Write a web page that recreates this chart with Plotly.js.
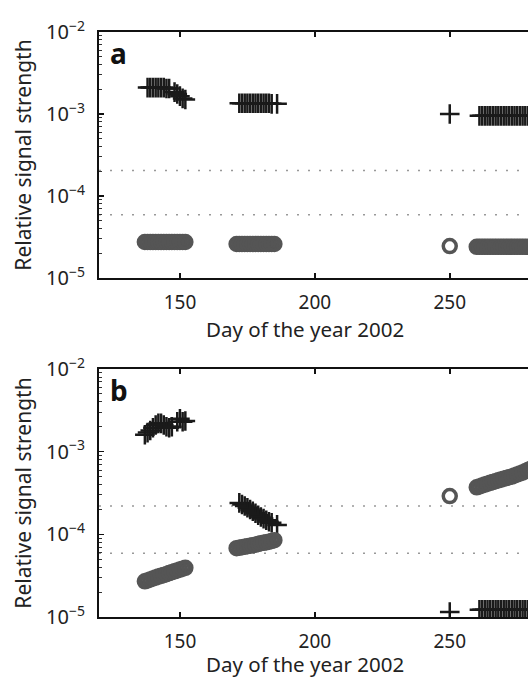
<!DOCTYPE html>
<html>
<head>
<meta charset="utf-8">
<script src="https://cdn.plot.ly/plotly-3.0.1.min.js"></script>
<style>html,body{margin:0;padding:0;background:#fff;overflow:hidden}#chart{width:528px;height:680px}</style>
</head>
<body>
<div id="chart"></div>
<script>
// ---------- Panel a ----------
const aCrossDays = [138,139,140,141,142,143,144,145,146,148,149,150,151,152,
                    172,173,174,175,176,177,178,179,180,181,182,183,184,186,
                    250,
                    261,262,263,264,265,266,267,268,269,270,271,272,273,274,275,276,277,278,279,280];
const aCrossVals = [2.1e-3,2.1e-3,2.1e-3,2.1e-3,2.1e-3,2.1e-3,2.1e-3,2.05e-3,2.05e-3,1.85e-3,1.75e-3,1.65e-3,1.55e-3,1.5e-3,
                    1.35e-3,1.35e-3,1.35e-3,1.35e-3,1.35e-3,1.35e-3,1.35e-3,1.35e-3,1.35e-3,1.35e-3,1.35e-3,1.35e-3,1.33e-3,1.33e-3,
                    1.0e-3,
                    9.5e-4,9.5e-4,9.5e-4,9.5e-4,9.5e-4,9.5e-4,9.5e-4,9.5e-4,9.5e-4,9.5e-4,9.5e-4,9.5e-4,9.5e-4,9.5e-4,9.5e-4,9.5e-4,9.5e-4,9.5e-4,9.5e-4,9.5e-4];
const aCircleDays = [137,138,139,140,141,142,143,144,145,146,147,148,149,150,151,152,
                     171,172,173,174,175,176,177,178,179,180,181,182,183,184,185,
                     250,
                     260,261,262,263,264,265,266,267,268,269,270,271,272,273,274,275,276,277,278,279,280];
const aCircleVals = [2.75e-5,2.75e-5,2.75e-5,2.75e-5,2.75e-5,2.75e-5,2.75e-5,2.75e-5,2.75e-5,2.75e-5,2.75e-5,2.75e-5,2.75e-5,2.75e-5,2.75e-5,2.75e-5,
                     2.6e-5,2.6e-5,2.6e-5,2.6e-5,2.6e-5,2.6e-5,2.6e-5,2.6e-5,2.6e-5,2.6e-5,2.6e-5,2.6e-5,2.6e-5,2.6e-5,2.6e-5,
                     2.45e-5,
                     2.4e-5,2.4e-5,2.4e-5,2.4e-5,2.4e-5,2.4e-5,2.4e-5,2.4e-5,2.4e-5,2.4e-5,2.4e-5,2.4e-5,2.4e-5,2.4e-5,2.4e-5,2.4e-5,2.4e-5,2.4e-5,2.4e-5,2.4e-5,2.4e-5];
const aThresholds = [2.05e-4, 5.9e-5];

// ---------- Panel b ----------
const bCrossDays = [137,138,139,140,141,142,143,144,145,146,147,149,150,151,152,
                    172,173,174,175,176,177,178,179,180,181,182,183,184,186,
                    250,
                    261,262,263,264,265,266,267,268,269,270,271,272,273,274,275,276,277,278,279,280];
const bCrossVals = [1.6e-3,1.7e-3,1.8e-3,1.95e-3,2.1e-3,2.2e-3,2.2e-3,2.1e-3,2.0e-3,1.95e-3,2.0e-3,2.3e-3,2.5e-3,2.3e-3,2.35e-3,
                    2.4e-4,2.3e-4,2.2e-4,2.1e-4,2.0e-4,1.9e-4,1.8e-4,1.7e-4,1.62e-4,1.55e-4,1.48e-4,1.42e-4,1.38e-4,1.3e-4,
                    1.15e-5,
                    1.22e-5,1.22e-5,1.22e-5,1.22e-5,1.22e-5,1.22e-5,1.22e-5,1.22e-5,1.22e-5,1.22e-5,1.22e-5,1.22e-5,1.22e-5,1.22e-5,1.22e-5,1.22e-5,1.22e-5,1.22e-5,1.22e-5,1.22e-5];
const bCircleDays = [137,138,139,140,141,142,143,144,145,146,147,148,149,150,151,152,
                     171,172,173,174,175,176,177,178,179,180,181,182,183,184,185,
                     250,
                     260,261,262,263,264,265,266,267,268,269,270,271,272,273,274,275,276,277,278,279,280];
const bCircleVals = [2.7e-5,2.77e-5,2.85e-5,2.92e-5,3.0e-5,3.08e-5,3.15e-5,3.23e-5,3.3e-5,3.4e-5,3.48e-5,3.57e-5,3.66e-5,3.75e-5,3.84e-5,3.93e-5,
                     6.8e-5,6.9e-5,7.0e-5,7.1e-5,7.2e-5,7.3e-5,7.4e-5,7.5e-5,7.65e-5,7.8e-5,7.9e-5,8.0e-5,8.15e-5,8.3e-5,8.5e-5,
                     2.9e-4,
                     3.7e-4,3.8e-4,3.9e-4,4.0e-4,4.1e-4,4.2e-4,4.3e-4,4.4e-4,4.5e-4,4.6e-4,4.7e-4,4.8e-4,4.9e-4,5.0e-4,5.15e-4,5.3e-4,5.45e-4,5.6e-4,5.8e-4,6.0e-4,6.2e-4];
const bThresholds = [2.2e-4, 5.9e-5];

// ---------- Axis labels ----------
const xTickVals = [150, 200, 250, 300];
const xTickText = ['150', '200', '250', '300'];
const yTickVals = [1e-5, 1e-4, 1e-3, 1e-2];
const yTickText = ['10<sup>−5</sup>', '10<sup>−4</sup>', '10<sup>−3</sup>', '10<sup>−2</sup>'];
const xTitle = 'Day of the year 2002';
const yTitle = 'Relative signal strength';
const panelLabels = ['a', 'b'];

// minor tick positions for log axis
const yMinor = [];
for (let e = -5; e < -2; e++) for (let m = 2; m <= 9; m++) yMinor.push(m * Math.pow(10, e));

const FONT = 'Noto Sans, Open Sans, sans-serif';
const crossMarker = {symbol: 'cross-thin', size: 14, line: {width: 2.5, color: '#1a1a1a'}, color: '#1a1a1a'};
const circleMarker = {symbol: 'circle-open', size: 13, line: {width: 3.5, color: '#555555'}, color: '#555555'};

const traces = [
  {x: aCrossDays, y: aCrossVals, xaxis: 'x', yaxis: 'y', type: 'scatter', mode: 'markers', marker: crossMarker},
  {x: aCircleDays, y: aCircleVals, xaxis: 'x', yaxis: 'y', type: 'scatter', mode: 'markers', marker: circleMarker},
  {x: bCrossDays, y: bCrossVals, xaxis: 'x2', yaxis: 'y2', type: 'scatter', mode: 'markers', marker: crossMarker},
  {x: bCircleDays, y: bCircleVals, xaxis: 'x2', yaxis: 'y2', type: 'scatter', mode: 'markers', marker: circleMarker}
];

function xAxis(anchor) {
  return {
    domain: [99 / 528, 1], range: [120, 279], anchor: anchor,
    tickmode: 'array', tickvals: xTickVals, ticktext: xTickText,
    ticks: 'inside', ticklen: 5, tickwidth: 1.5, tickcolor: '#111',
    showline: true, linewidth: 2, linecolor: '#111', mirror: 'ticks',
    showgrid: false, zeroline: false,
    tickfont: {family: FONT, size: 19, color: '#222'}, ticklabelstandoff: 6,
    automargin: false
  };
}
function yAxis(anchor, dom) {
  return {
    domain: dom, type: 'log', range: [-5, -2], anchor: anchor,
    tickmode: 'array', tickvals: yTickVals, ticktext: yTickText,
    ticks: 'inside', ticklen: 5, tickwidth: 1.5, tickcolor: '#111',
    minor: {tickmode: 'array', tickvals: yMinor, ticks: 'inside', ticklen: 3, tickwidth: 1, tickcolor: '#333', showgrid: false},
    showline: true, linewidth: 2, linecolor: '#111', mirror: false,
    showgrid: false, zeroline: false,
    tickfont: {family: FONT, size: 20, color: '#222'}, ticklabelstandoff: 8,
    title: {text: yTitle, font: {family: FONT, size: 21, color: '#222'}, standoff: 9},
    automargin: false
  };
}

const shapes = [];
aThresholds.forEach(v => shapes.push({type: 'line', xref: 'x domain', yref: 'y', x0: 0, x1: 1, y0: v, y1: v,
  line: {color: '#999', width: 1.5, dash: '2px,9px'}, layer: 'below'}));
bThresholds.forEach(v => shapes.push({type: 'line', xref: 'x2 domain', yref: 'y2', x0: 0, x1: 1, y0: v, y1: v,
  line: {color: '#999', width: 1.5, dash: '2px,9px'}, layer: 'below'}));

const annotations = [
  {text: '<b>' + panelLabels[0] + '</b>', xref: 'x domain', yref: 'y domain', x: 0.022, y: 0.915, xanchor: 'left', yanchor: 'middle',
   showarrow: false, font: {family: FONT, size: 28, color: '#111'}},
  {text: '<b>' + panelLabels[1] + '</b>', xref: 'x2 domain', yref: 'y2 domain', x: 0.022, y: 0.915, xanchor: 'left', yanchor: 'middle',
   showarrow: false, font: {family: FONT, size: 28, color: '#111'}},
  // x-axis titles (placed as in the reference, slightly left of the cropped axis centre)
  {text: xTitle, xref: 'paper', yref: 'paper', x: 305 / 528, y: 1 - 329 / 680, xanchor: 'center', yanchor: 'middle',
   showarrow: false, font: {family: FONT, size: 20.5, color: '#222'}},
  {text: xTitle, xref: 'paper', yref: 'paper', x: 305 / 528, y: 0, xanchor: 'center', yanchor: 'bottom',
   showarrow: false, font: {family: FONT, size: 20.5, color: '#222'}}
];

const layout = {
  width: 528, height: 680,
  margin: {l: 0, r: 0, t: 0, b: 0},
  paper_bgcolor: '#ffffff', plot_bgcolor: '#ffffff',
  showlegend: false,
  font: {family: FONT, color: '#222'},
  xaxis: xAxis('y'),
  yaxis: yAxis('x', [1 - 278 / 680, 1 - 32 / 680]),
  xaxis2: xAxis('y2'),
  yaxis2: yAxis('x2', [1 - 617 / 680, 1 - 369 / 680]),
  shapes: shapes,
  annotations: annotations
};

Plotly.newPlot('chart', traces, layout, {displayModeBar: false, staticPlot: true});
</script>
</body>
</html>
